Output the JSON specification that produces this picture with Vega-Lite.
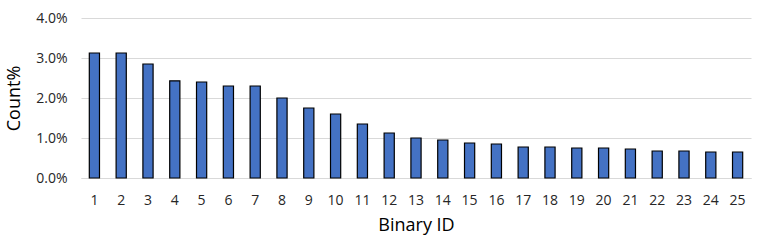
{
  "$schema": "https://vega.github.io/schema/vega-lite/v6.json",
  "autosize": {"type": "none"},
  "width": 670,
  "height": 160,
  "padding": {"left": 81, "top": 18, "right": 7, "bottom": 69},
  "background": "white",
  "config": {"view": {"stroke": null}, "font": "Open Sans"},
  "data": {"values": [
    {"id": 1, "pct": 0.03125}, {"id": 2, "pct": 0.03125}, {"id": 3, "pct": 0.0285},
    {"id": 4, "pct": 0.0243}, {"id": 5, "pct": 0.0240}, {"id": 6, "pct": 0.0230},
    {"id": 7, "pct": 0.0230}, {"id": 8, "pct": 0.0200}, {"id": 9, "pct": 0.0175},
    {"id": 10, "pct": 0.0160}, {"id": 11, "pct": 0.0135}, {"id": 12, "pct": 0.01125},
    {"id": 13, "pct": 0.0100}, {"id": 14, "pct": 0.0095}, {"id": 15, "pct": 0.00875},
    {"id": 16, "pct": 0.0085}, {"id": 17, "pct": 0.00775}, {"id": 18, "pct": 0.00775},
    {"id": 19, "pct": 0.0075}, {"id": 20, "pct": 0.0075}, {"id": 21, "pct": 0.00725},
    {"id": 22, "pct": 0.00675}, {"id": 23, "pct": 0.00675}, {"id": 24, "pct": 0.0065},
    {"id": 25, "pct": 0.0065}
  ]},
  "mark": {"type": "bar", "color": "#4472C4", "stroke": "#000000", "strokeWidth": 1.2},
  "encoding": {
    "x": {
      "field": "id", "type": "ordinal", "sort": null,
      "scale": {"paddingInner": 0.62, "paddingOuter": 0.31},
      "axis": {
        "title": "Binary ID", "labelAngle": 0, "ticks": false,
        "domainColor": "#d9d9d9", "domainWidth": 1,
        "labelFontSize": 14, "labelColor": "#262626", "labelPadding": 15,
        "titleFontSize": 18, "titleFontWeight": "normal", "titleColor": "#000000", "titlePadding": 9
      }
    },
    "y": {
      "field": "pct", "type": "quantitative",
      "scale": {"domain": [0, 0.04]},
      "axis": {
        "title": "Count%", "format": ".1%", "values": [0, 0.01, 0.02, 0.03, 0.04],
        "domain": false, "ticks": false, "gridColor": "#d9d9d9", "gridWidth": 1,
        "labelFontSize": 14, "labelColor": "#262626", "labelPadding": 14,
        "titleFontSize": 18, "titleFontWeight": "normal", "titleColor": "#000000", "titlePadding": 12
      }
    }
  }
}
